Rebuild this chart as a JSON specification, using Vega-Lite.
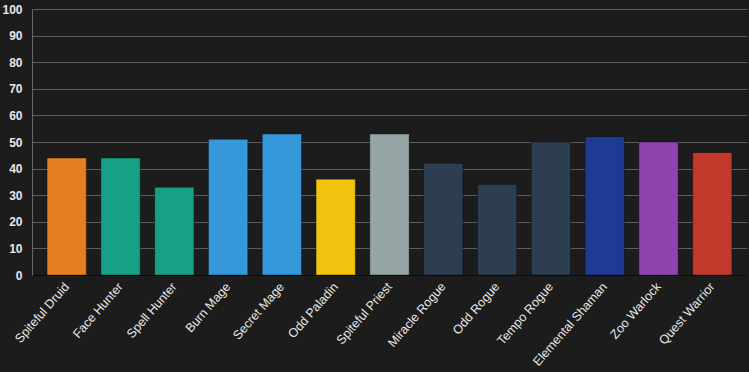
{
  "$schema": "https://vega.github.io/schema/vega-lite/v6.json",
  "autosize": "none",
  "width": 715,
  "height": 266,
  "padding": {"left": 32, "top": 9, "right": 2, "bottom": 97},
  "background": "#1c1c1c",
  "config": {"view": {"stroke": null}, "font": "Liberation Sans"},
  "data": {"values": [
    {"deck": "Spiteful Druid", "value": 44},
    {"deck": "Face Hunter", "value": 44},
    {"deck": "Spell Hunter", "value": 33},
    {"deck": "Burn Mage", "value": 51},
    {"deck": "Secret Mage", "value": 53},
    {"deck": "Odd Paladin", "value": 36},
    {"deck": "Spiteful Priest", "value": 53},
    {"deck": "Miracle Rogue", "value": 42},
    {"deck": "Odd Rogue", "value": 34},
    {"deck": "Tempo Rogue", "value": 50},
    {"deck": "Elemental Shaman", "value": 52},
    {"deck": "Zoo Warlock", "value": 50},
    {"deck": "Quest Warrior", "value": 46}
  ]},
  "mark": {"type": "bar", "strokeWidth": 1, "strokeOpacity": 0.35, "stroke": "#000000"},
  "encoding": {
    "x": {
      "field": "deck", "type": "nominal", "sort": null,
      "scale": {"paddingInner": 0.27, "paddingOuter": 0.28},
      "axis": {
        "title": null, "labelAngle": -49, "labelColor": "#e8e8e8", "labelFontSize": 12.5,
        "ticks": false, "labelPadding": 9,
        "domainColor": "#0a0a0a", "domainWidth": 1, "grid": false
      }
    },
    "y": {
      "field": "value", "type": "quantitative",
      "scale": {"domain": [0, 100], "nice": false},
      "axis": {
        "title": null, "values": [0,10,20,30,40,50,60,70,80,90,100],
        "labelColor": "#e8e8e8", "labelFontSize": 12, "labelFontWeight": "bold",
        "ticks": false, "labelPadding": 10, "domainColor": "#666666",
        "gridColor": "#5c5c5c", "gridWidth": 1
      }
    },
    "color": {
      "field": "deck", "type": "nominal", "legend": null,
      "scale": {
        "domain": ["Spiteful Druid","Face Hunter","Spell Hunter","Burn Mage","Secret Mage","Odd Paladin","Spiteful Priest","Miracle Rogue","Odd Rogue","Tempo Rogue","Elemental Shaman","Zoo Warlock","Quest Warrior"],
        "range": ["#e67e22","#16a085","#16a085","#3498db","#3498db","#f1c40f","#95a5a6","#2c3e50","#2c3e50","#2c3e50","#1f3a93","#8e44ad","#c0392b"]
      }
    }
  }
}
